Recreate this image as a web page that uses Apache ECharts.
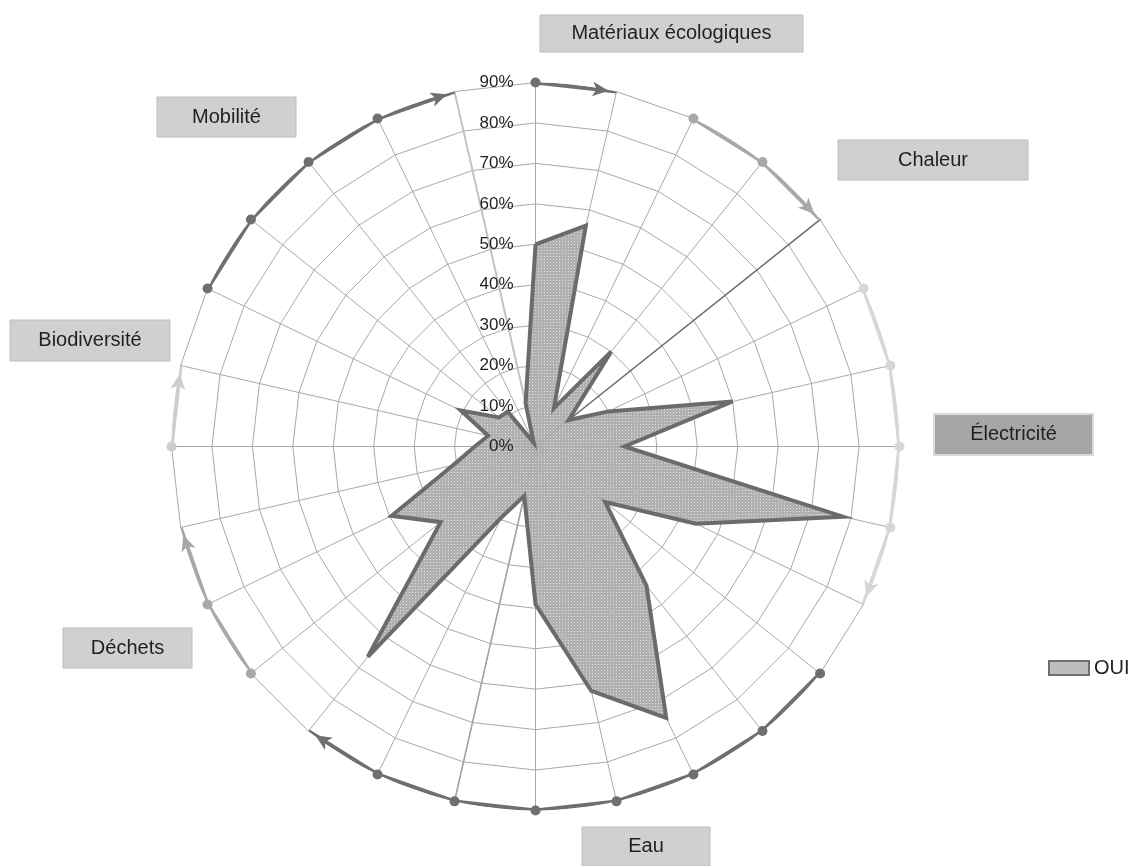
<!DOCTYPE html>
<html>
<head>
<meta charset="utf-8">
<title>Radar OUI</title>
<script src="https://cdn.jsdelivr.net/npm/echarts@6/dist/echarts.min.js"></script>
<style>
  html, body { margin: 0; padding: 0; background: #fff; }
  #chart { width: 1137px; height: 866px; }
</style>
</head>
<body>
<div id="chart"></div>
<script>
// 28 spokes, clockwise from the top
const SPOKES = 28
const ringValue = 90

const ouiValues = [50, 56, 10.5, 30, 10.5, 20, 50, 22, 78, 44, 22, 44, 74.5, 62,
  39, 12.5, 19.5, 66.5, 30, 39.5, 21, 15, 12, 20.5, 11.5, 11, 1, 11]

const groupNames = ['Matériaux écologiques', 'Chaleur', 'Électricité', 'Eau', 'Déchets', 'Biodiversité', 'Mobilité']
const groupStart = [0, 2, 5, 10, 18, 21, 23]
const groupEnd = [1, 4, 9, 17, 20, 22, 27]

// highlighted spokes (drawn from the centre to the outer ring)
const accentSpokes = [4, 15, 27]

const FONT = '"Liberation Sans", Arial, sans-serif'
const STEP = 360 / SPOKES

const arcColors = ['#6f6f71', '#a8a8aa', '#d6d6d6', '#6f6f71', '#a8a8aa', '#cdcdcd', '#6f6f71']
const accentStyles = [
  { color: '#6f6f71', width: 1.5 },
  { color: '#a3a3a3', width: 1.5 },
  { color: '#c4c4c4', width: 2 }
]
const boxLayout = [
  [540, 15, 263, 37], [838, 140, 190, 40], [934, 414, 159, 41], [582, 827, 128, 39],
  [63, 628, 129, 40], [10, 320, 160, 41], [157, 97, 139, 40]
]

// radar lays out indicators counter-clockwise, so reorder to get clockwise
const radarOrder = Array.from({ length: SPOKES }, (_, j) => (SPOKES - j) % SPOKES)
const toRadar = arr => radarOrder.map(k => arr[k])

// dotted fill like the original
const tile = document.createElement('canvas')
tile.width = 3
tile.height = 3
const tctx = tile.getContext('2d')
tctx.fillStyle = '#ababab'
tctx.fillRect(0, 0, 3, 3)
tctx.fillStyle = '#dedede'
tctx.fillRect(1, 1, 1, 1)

const chart = echarts.init(document.getElementById('chart'))

const spokeSeries = accentSpokes.map((s, i) => ({
  type: 'radar',
  name: 'spoke' + i,
  silent: true,
  symbol: 'none',
  z: 2,
  lineStyle: accentStyles[i],
  areaStyle: { opacity: 0 },
  data: [{ value: toRadar(ouiValues.map((_, k) => (k === s ? ringValue : 0))), lineStyle: accentStyles[i] }]
}))

const arcSeries = groupNames.map((name, g) => {
  const data = []
  for (let i = groupStart[g]; i <= groupEnd[g]; i++) {
    const angle = i * STEP
    if (i < groupEnd[g]) {
      data.push({ value: [ringValue, angle], symbol: 'circle', symbolSize: 10 })
    } else {
      const phi = angle - STEP / 2 + 90
      const rad = phi * Math.PI / 180
      const h = 16
      data.push({
        value: [ringValue, angle],
        symbol: 'arrow',
        symbolSize: [11, h],
        symbolRotate: -phi,
        symbolOffset: [-Math.sin(rad) * h / 2, Math.cos(rad) * h / 2]
      })
    }
  }
  return {
    type: 'line',
    name: name,
    coordinateSystem: 'polar',
    silent: true,
    clip: false,
    showAllSymbol: true,
    z: 4,
    lineStyle: { color: arcColors[g], width: 4 },
    itemStyle: { color: arcColors[g] },
    data: data
  }
})

const ouiLine = { color: '#6b6b6d', width: 4, join: 'miter', miterLimit: 6 }
const ouiArea = { color: { image: tile, repeat: 'repeat' }, opacity: 0.92 }

const option = {
  animation: false,
  backgroundColor: '#fff',
  textStyle: { fontFamily: FONT },
  legend: {
    left: 1048,
    top: 658,
    padding: 0,
    icon: 'rect',
    itemWidth: 40,
    itemHeight: 14,
    textStyle: { fontSize: 20, color: '#231f20', fontFamily: FONT },
    data: [{ name: 'OUI', itemStyle: { color: '#bdbdbd', borderColor: '#6f6f71', borderWidth: 2 } }]
  },
  radar: {
    center: [535.5, 446.5],
    radius: 364,
    startAngle: 90,
    shape: 'polygon',
    splitNumber: 9,
    indicator: radarOrder.map(() => ({ name: '', min: 0, max: ringValue })),
    axisName: { show: false },
    splitArea: { show: false },
    splitLine: { lineStyle: { color: '#a9a9a9', width: 1 } },
    axisLine: { lineStyle: { color: '#a9a9a9', width: 1 } }
  },
  polar: {
    center: [535.5, 446.5],
    radius: 364
  },
  angleAxis: {
    type: 'value',
    min: 0,
    max: 360,
    startAngle: 90,
    clockwise: true,
    axisLine: { show: false },
    axisTick: { show: false },
    axisLabel: { show: false },
    splitLine: { show: false }
  },
  radiusAxis: {
    type: 'value',
    min: 0,
    max: ringValue,
    interval: 10,
    z: 10,
    axisLine: { show: false },
    axisTick: { show: false },
    splitLine: { show: false },
    axisLabel: { formatter: '{value}%', fontSize: 17, color: '#231f20', margin: 22, fontFamily: FONT }
  },
  graphic: groupNames.map((name, g) => {
    const [x, y, w, h] = boxLayout[g]
    const dark = name === 'Électricité'
    return {
      type: 'group',
      x: x,
      y: y,
      children: [
        {
          type: 'rect',
          shape: { x: 0, y: 0, width: w, height: h },
          style: { fill: dark ? '#a6a6a6' : '#d0d0d0', stroke: dark ? '#dadada' : '#bdbdbd', lineWidth: dark ? 2 : 1 }
        },
        {
          type: 'text',
          x: w / 2,
          y: h / 2,
          style: { text: name, fill: '#231f20', fontSize: 20, fontFamily: FONT, align: 'center', verticalAlign: 'middle' }
        }
      ]
    }
  }),
  series: [
    ...spokeSeries,
    {
      type: 'radar',
      name: 'OUI',
      symbol: 'none',
      z: 3,
      lineStyle: { width: 0, opacity: 0 },
      areaStyle: ouiArea,
      data: [{ name: 'OUI', value: toRadar(ouiValues), lineStyle: { width: 0, opacity: 0 }, areaStyle: ouiArea }]
    },
    {
      // outline on top of the fill so the full stroke width shows
      type: 'radar',
      name: 'OUI outline',
      symbol: 'none',
      silent: true,
      z: 3,
      lineStyle: ouiLine,
      data: [{ value: toRadar(ouiValues), lineStyle: ouiLine }]
    },
    ...arcSeries
  ]
}

chart.setOption(option)
</script>
</body>
</html>
